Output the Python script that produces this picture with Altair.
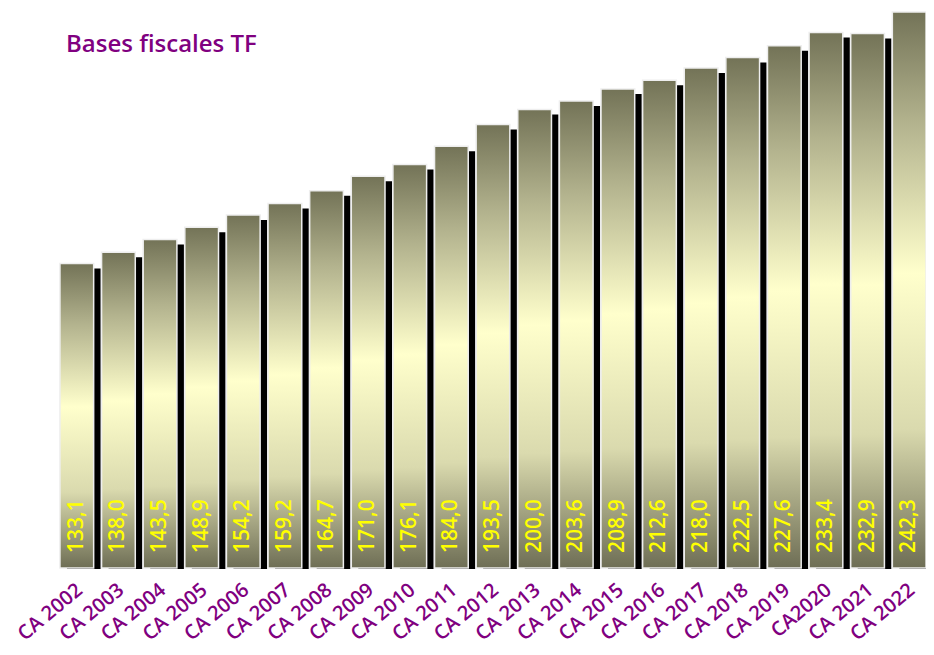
import altair as alt
import pandas as pd

categories = ["CA 2002", "CA 2003", "CA 2004", "CA 2005", "CA 2006", "CA 2007",
              "CA 2008", "CA 2009", "CA 2010", "CA 2011", "CA 2012", "CA 2013",
              "CA 2014", "CA 2015", "CA 2016", "CA 2017", "CA 2018", "CA 2019",
              "CA2020", "CA 2021", "CA 2022"]
values = [133.1, 138.0, 143.5, 148.9, 154.2, 159.2, 164.7, 171.0, 176.1, 184.0,
          193.5, 200.0, 203.6, 208.9, 212.6, 218.0, 222.5, 227.6, 233.4, 232.9, 242.3]
title_text = "Bases fiscales TF"

df = pd.DataFrame({
    "cat": categories,
    "val": values,
    "label": [f"{v:.1f}".replace(".", ",") for v in values],
})

PURPLE = "#800080"
FONT = "Open Sans"

xenc = alt.X("cat:N", sort=categories,
             scale=alt.Scale(range=[48, 922], paddingInner=0.19, paddingOuter=0.095),
             axis=alt.Axis(title=None, domain=False, ticks=False, labelAngle=-40,
                           labelAlign="right", labelBaseline="middle",
                           labelColor=PURPLE, labelFontSize=20, labelFont=FONT,
                           labelFontWeight=600, labelLimit=300,
                           labelPadding=19, labelOffset=3))
yscale = alt.Scale(domain=[1, 244], zero=False, nice=False)
yenc = alt.Y("val:Q", scale=yscale, axis=None)

base = alt.Chart(df)

shadow = base.mark_bar(color="black", xOffset=7, x2Offset=7, yOffset=5, y2Offset=1).encode(
    x=xenc, y=yenc, y2=alt.datum(1))

grad = alt.Gradient(
    gradient="linear", x1=0, y1=0, x2=0, y2=1,
    stops=[alt.GradientStop(offset=0, color="#737357"),
           alt.GradientStop(offset=0.2, color="#b3b38e"),
           alt.GradientStop(offset=0.47, color="#ffffcc"),
           alt.GradientStop(offset=0.75, color="#dadaae"),
           alt.GradientStop(offset=1, color="#6e6e55")])

bars = base.mark_bar(color=grad, stroke="#eeeeee", strokeWidth=1.5).encode(
    x=xenc, y=yenc, y2=alt.datum(1))

labels = base.mark_text(angle=270, align="left", baseline="middle", dx=15,
                        color="#ffff00", fontSize=21, font=FONT, fontWeight=600).encode(
    x=xenc, y=alt.datum(1), text="label:N")

title = alt.Chart(pd.DataFrame({"t": [title_text]})).mark_text(
    align="left", baseline="alphabetic", color=PURPLE, fontSize=24,
    font=FONT, fontWeight=600).encode(
    x=alt.value(58), y=alt.value(44), text="t:N")

chart = alt.layer(shadow, bars, labels, title).properties(
    width=918, height=560,
    autosize=alt.AutoSizeParams(type="none"),
    padding={"left": 0, "top": 0, "right": 0, "bottom": 79},
).configure_view(stroke=None)

chart.save("out.html", embed_options={"renderer": "svg", "actions": False})
